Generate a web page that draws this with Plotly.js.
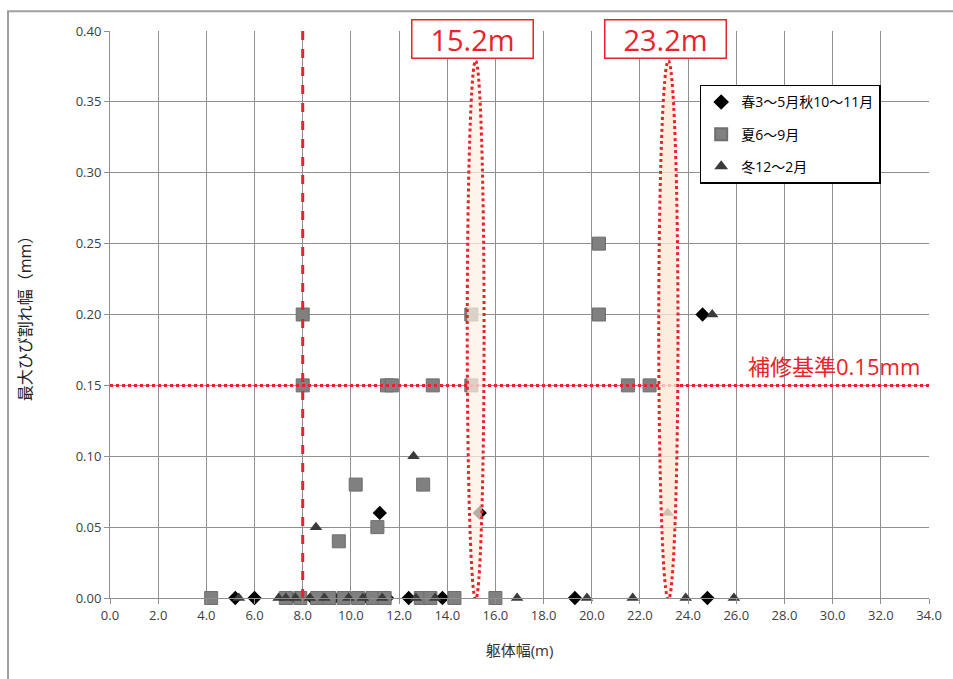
<!DOCTYPE html>
<html>
<head>
<meta charset="utf-8">
<script src="https://cdn.plot.ly/plotly-3.0.1.min.js"></script>
<style>html,body{margin:0;padding:0;background:#fff;}#chart{width:953px;height:679px;}</style>
</head>
<body>
<div id="chart"></div>
<script>
// ---- data ----
const seriesNames = ['春3～5月秋10～11月', '夏6～9月', '冬12～2月'];

const springX = [11.2, 24.6, 15.35, 5.2, 6.0, 7.5, 8.4, 9.3, 10.7, 11.5, 12.4, 13.1, 13.8, 19.3, 24.8];
const springY = [0.06, 0.20, 0.06, 0, 0, 0, 0, 0, 0, 0, 0, 0, 0, 0, 0];

const summerX = [8.0, 8.0, 11.5, 11.7, 13.4, 15.0, 15.0, 10.2, 9.5, 11.1, 13.0, 20.3, 20.3, 21.5, 22.4,
                 4.2, 7.3, 7.9, 8.6, 9.1, 9.7, 10.3, 10.9, 11.4, 12.9, 13.3, 14.3, 16.0];
const summerY = [0.20, 0.15, 0.15, 0.15, 0.15, 0.20, 0.15, 0.08, 0.04, 0.05, 0.08, 0.25, 0.20, 0.15, 0.15,
                 0, 0, 0, 0, 0, 0, 0, 0, 0, 0, 0, 0, 0];

const winterX = [8.55, 12.6, 25.0, 23.15, 5.35, 7.0, 7.3, 7.7, 8.3, 8.9, 9.9, 10.5, 11.3, 12.7, 13.5, 16.9, 19.8, 21.7, 23.9, 25.9];
const winterY = [0.05, 0.10, 0.20, 0.06, 0, 0, 0, 0, 0, 0, 0, 0, 0, 0, 0, 0, 0, 0, 0, 0];

const xTickVals = [0, 2, 4, 6, 8, 10, 12, 14, 16, 18, 20, 22, 24, 26, 28, 30, 32, 34];
const yTickVals = [0, 0.05, 0.10, 0.15, 0.20, 0.25, 0.30, 0.35, 0.40];

const widthLine = 8.0;        // 躯体幅 8.0m
const repairLimit = 0.15;     // 補修基準 0.15mm
const highlightWidths = [15.2, 23.2];
const highlightLabels = ['15.2m', '23.2m'];
const repairLabel = '補修基準0.15mm';

// ---- styles ----
const RED = '#E8232A';
const FONT = 'Open Sans, Noto Sans CJK JP, sans-serif';
const GRID = '#8f8f8f';

const traces = [
  {x: springX, y: springY, name: seriesNames[0], legendgroup: 'a', type: 'scatter', mode: 'markers', cliponaxis: false,
   marker: {symbol: 'diamond', size: 11, color: '#000000'}},
  {x: summerX, y: summerY, name: seriesNames[1], legendgroup: 'b', type: 'scatter', mode: 'markers', cliponaxis: false,
   marker: {symbol: 'square', size: 13, color: '#808080', line: {color: '#6e6e6e', width: 1}}},
  {x: winterX, y: winterY, name: seriesNames[2], legendgroup: 'c', type: 'scatter', mode: 'markers', cliponaxis: false,
   marker: {symbol: 'triangle-up', size: 11, color: '#3a3a3a'}}
];

const halfW = [0.35, 0.4];
const ellFill = ['rgba(252,240,228,0.72)', 'rgba(251,232,214,0.78)'];
const shapes = [
  // outer frame
  {type: 'rect', xref: 'paper', yref: 'paper', x0: -0.1245, x1: 1.05, y0: -0.2, y1: 1.035,
   line: {color: '#a0a0a0', width: 2}, layer: 'above'},
  // vertical dashed line at 8.0
  {type: 'line', xref: 'x', yref: 'y', x0: widthLine, x1: widthLine, y0: 0, y1: 0.40,
   line: {color: RED, width: 3, dash: 'dash'}},
  // horizontal dotted line at 0.15
  {type: 'line', xref: 'x', yref: 'y', x0: 0, x1: 34.2, y0: repairLimit, y1: repairLimit,
   line: {color: RED, width: 3, dash: 'dot'}}
];
highlightWidths.forEach((w, i) => {
  shapes.push({type: 'circle', xref: 'x', yref: 'y', x0: w - halfW[i] - 0.02, x1: w + halfW[i] - 0.02, y0: -0.001, y1: 0.379,
    fillcolor: ellFill[i], line: {color: RED, width: 3, dash: 'dot'}});
});

const annotations = highlightWidths.map((w, i) => ({
  x: w - 0.15, xref: 'x', y: 0.986, yref: 'paper', text: highlightLabels[i], showarrow: false,
  xanchor: 'center', yanchor: 'middle', width: 118, height: 35,
  font: {family: FONT, size: 29, color: RED},
  bgcolor: '#ffffff', bordercolor: RED, borderwidth: 1.5, borderpad: 1
}));
annotations.push({
  x: 33.7, xref: 'x', y: 0.164, yref: 'y', text: repairLabel, showarrow: false,
  xanchor: 'right', yanchor: 'middle', font: {family: FONT, size: 22, color: RED}
});

const layout = {
  width: 953, height: 679,
  margin: {l: 110, r: 24, t: 31, b: 81},
  paper_bgcolor: '#ffffff', plot_bgcolor: '#ffffff',
  font: {family: FONT, size: 13, color: '#404040'},
  showlegend: true,
  legend: {x: 0.72, y: 0.905, xanchor: 'left', yanchor: 'top',
           bgcolor: '#ffffff', bordercolor: '#000000', borderwidth: 1.5, itemsizing: 'constant',
           font: {family: FONT, size: 14, color: '#000000'}, itemwidth: 20, tracegroupgap: 11},
  xaxis: {range: [0, 34], tickvals: xTickVals, tickformat: '.1f',
          showgrid: true, gridcolor: GRID, gridwidth: 1, zeroline: false,
          showline: true, linecolor: GRID, linewidth: 1, ticks: 'outside', ticklen: 5, tickcolor: GRID,
          tickfont: {family: FONT, size: 13, color: '#404040'},
          title: {text: '躯体幅(m)', font: {family: FONT, size: 15, color: '#333333'}, standoff: 22}},
  yaxis: {range: [0, 0.40], tickvals: yTickVals, tickformat: '.2f',
          showgrid: true, gridcolor: GRID, gridwidth: 1, zeroline: false,
          showline: true, linecolor: GRID, linewidth: 1, ticks: 'outside', ticklen: 5, tickcolor: GRID,
          tickfont: {family: FONT, size: 13, color: '#404040'},
          title: {text: '最大ひび割れ幅（mm）', font: {family: FONT, size: 16, color: '#222222'}, standoff: 40}},
  shapes: shapes,
  annotations: annotations
};

Plotly.newPlot('chart', traces, layout, {displayModeBar: false, staticPlot: true});
</script>
</body>
</html>
